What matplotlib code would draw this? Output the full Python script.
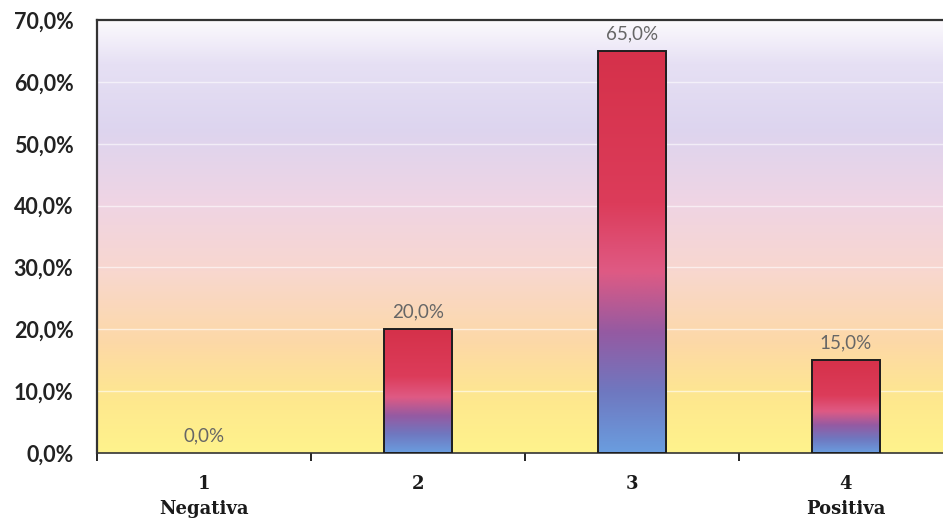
import numpy as np
import matplotlib
matplotlib.use('Agg')
import matplotlib.pyplot as plt
from matplotlib.colors import LinearSegmentedColormap
from matplotlib.ticker import FixedLocator, FuncFormatter

# data
categories = ['1\nNegativa', '2', '3', '4\nPositiva']
values = [0.0, 20.0, 65.0, 15.0]
yticks = [0, 10, 20, 30, 40, 50, 60, 70]

bg_cmap = LinearSegmentedColormap.from_list('bg', [
    (0.00, '#fff38c'),
    (0.12, '#fee88e'),
    (0.25, '#fdd9a6'),
    (0.42, '#f8d7cf'),
    (0.58, '#efd4e4'),
    (0.75, '#ddd5ef'),
    (0.90, '#e6e0f4'),
    (1.00, '#fcfafd'),
])
bar_cmap = LinearSegmentedColormap.from_list('bar', [
    (0.00, '#6a9ddf'),
    (0.15, '#6f78c0'),
    (0.30, '#955aa2'),
    (0.45, '#df5a84'),
    (0.62, '#dc3c5a'),
    (1.00, '#d5314a'),
])

W, H = 943, 524
fig = plt.figure(figsize=(W / 100, H / 100), dpi=100)
fig.patch.set_facecolor('white')
# axes runs a little past the right edge like the source image
ax = fig.add_axes([97 / W, (H - 453) / H, 856 / W, 433 / H])

x = np.arange(len(values))
ax.set_xlim(-0.5, len(values) - 0.5)
ax.set_ylim(0, 70)

grad = np.linspace(0, 1, 256).reshape(-1, 1)
ax.imshow(grad, cmap=bg_cmap, origin='lower', aspect='auto',
          extent=[-0.5, len(values) - 0.5, 0, 70], zorder=0)

for yv in yticks[1:-1]:
    ax.axhline(yv, color='white', linewidth=1.0, alpha=0.6, zorder=1)

bars = ax.bar(x, values, width=0.32, facecolor='none', edgecolor='#1e1e1e',
              linewidth=1.4, zorder=3)
for b, v in zip(bars, values):
    if v <= 0:
        b.set_visible(False)
        continue
    x0, y0 = b.get_x(), b.get_y()
    im = ax.imshow(grad, cmap=bar_cmap, origin='lower', aspect='auto',
                   extent=[x0, x0 + b.get_width(), y0, y0 + b.get_height()],
                   zorder=2)
    im.set_clip_path(b)

for xi, v in zip(x, values):
    ax.text(xi, v + 1.4, f'{v:.1f}%'.replace('.', ','), ha='center',
            va='bottom', fontsize=13.5, color='#666666', family='Lato')

ax.yaxis.set_major_locator(FixedLocator(yticks))
ax.yaxis.set_major_formatter(FuncFormatter(lambda v, p: f'{v:.1f}%'.replace('.', ',')))
ax.set_xticks(np.arange(len(values) + 1) - 0.5, minor=False)
ax.set_xticklabels([])
ax.set_xticks(x, minor=True)
ax.set_xticklabels(categories, minor=True, family='DejaVu Serif',
                   fontweight='bold', fontsize=13, color='#1a1a1a',
                   linespacing=1.5)
ax.tick_params(axis='x', which='major', length=6, direction='out', width=1.2)
ax.tick_params(axis='x', which='minor', length=0, pad=16)
ax.tick_params(axis='y', length=0, pad=17, labelsize=15.5)
for lab in ax.get_yticklabels():
    lab.set_family('Lato')
    lab.set_fontweight('bold')
    lab.set_color('#222222')

ax.spines['left'].set_linewidth(1.6)
ax.spines['left'].set_color('#333333')
ax.spines['top'].set_linewidth(1.6)
ax.spines['top'].set_color('#333333')
ax.spines['bottom'].set_linewidth(1.2)
ax.spines['bottom'].set_color('#333333')
ax.spines['right'].set_visible(False)

fig.savefig('out.png', dpi=100)
